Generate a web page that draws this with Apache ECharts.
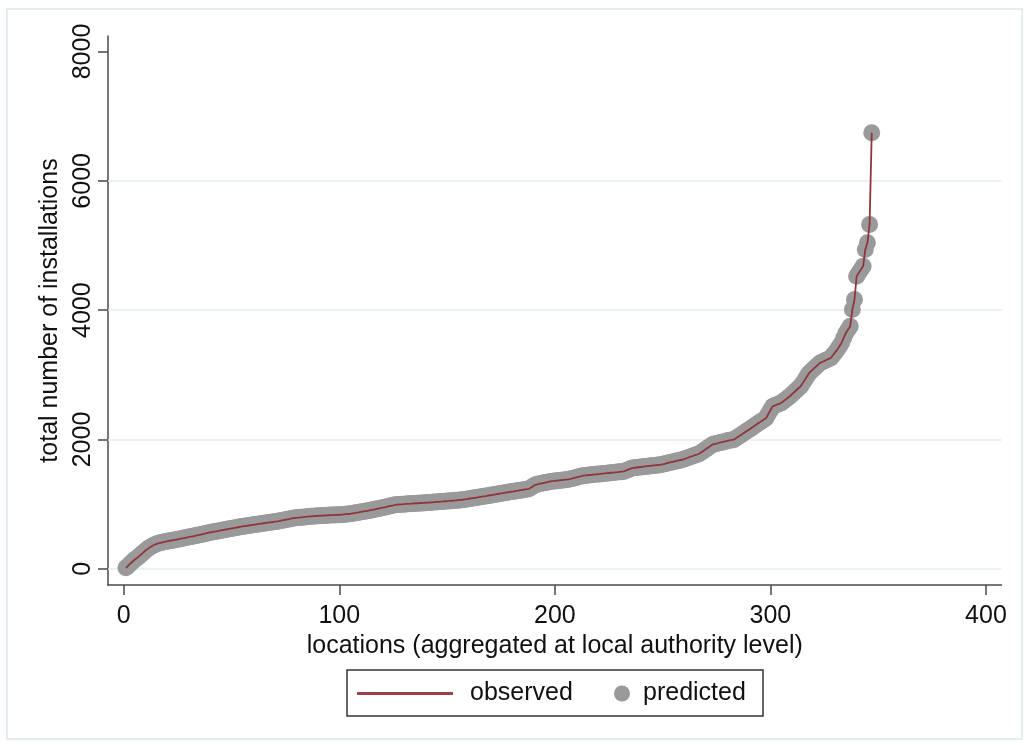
<!DOCTYPE html>
<html>
<head>
<meta charset="utf-8">
<script src="https://cdn.jsdelivr.net/npm/echarts@6/dist/echarts.min.js"></script>
<style>
html,body{margin:0;padding:0;background:#fff;}
#chart{width:1028px;height:745px;}
</style>
</head>
<body>
<div id="chart"></div>
<script>
// observed totals, sorted, for locations ranked 1..347
const observed = [
  15, 45, 80, 110, 140, 165, 190, 220, 250, 280,
  305, 330, 350, 368, 382, 394, 403, 410, 418, 425,
  431, 437, 443, 449, 456, 462, 470, 476, 484, 491,
  497, 503, 511, 518, 524, 531, 540, 547, 555, 562,
  568, 574, 580, 587, 593, 600, 606, 612, 618, 624,
  630, 636, 643, 649, 655, 660, 665, 670, 675, 680,
  685, 690, 695, 700, 705, 710, 715, 720, 724, 729,
  733, 739, 746, 752, 759, 766, 772, 779, 785, 789,
  792, 796, 799, 803, 806, 810, 812, 815, 817, 819,
  821, 823, 825, 827, 829, 831, 832, 834, 835, 836,
  839, 842, 845, 848, 851, 857, 863, 869, 874, 880,
  886, 892, 897, 903, 910, 917, 924, 931, 938, 945,
  952, 960, 968, 975, 982, 990, 993, 996, 998, 1000,
  1003, 1005, 1007, 1010, 1012, 1014, 1016, 1018, 1020, 1022,
  1024, 1026, 1029, 1032, 1035, 1037, 1040, 1042, 1045, 1048,
  1050, 1053, 1056, 1059, 1062, 1065, 1068, 1073, 1078, 1084,
  1089, 1094, 1099, 1104, 1110, 1115, 1121, 1126, 1132, 1138,
  1143, 1149, 1155, 1161, 1166, 1172, 1177, 1183, 1188, 1194,
  1199, 1205, 1210, 1216, 1221, 1227, 1232, 1238, 1258, 1280,
  1300, 1308, 1316, 1323, 1330, 1337, 1344, 1351, 1355, 1359,
  1363, 1367, 1371, 1375, 1379, 1383, 1388, 1397, 1406, 1414,
  1423, 1431, 1440, 1444, 1447, 1451, 1454, 1458, 1461, 1465,
  1468, 1472, 1475, 1479, 1482, 1486, 1489, 1493, 1496, 1500,
  1503, 1506, 1520, 1533, 1546, 1559, 1563, 1567, 1571, 1575,
  1579, 1583, 1587, 1591, 1595, 1599, 1603, 1606, 1610, 1617,
  1625, 1633, 1641, 1649, 1656, 1664, 1672, 1680, 1687, 1698,
  1710, 1722, 1734, 1745, 1757, 1768, 1780, 1803, 1826, 1850,
  1873, 1897, 1920, 1929, 1937, 1946, 1954, 1963, 1971, 1980,
  1988, 1993, 1997, 2019, 2041, 2063, 2085, 2108, 2130, 2152,
  2175, 2197, 2220, 2243, 2265, 2288, 2310, 2333, 2393, 2452,
  2512, 2525, 2539, 2552, 2565, 2591, 2617, 2642, 2668, 2700,
  2731, 2762, 2792, 2822, 2874, 2925, 2977, 3029, 3060, 3091,
  3122, 3153, 3184, 3199, 3215, 3230, 3246, 3261, 3304, 3347,
  3390, 3442, 3494, 3571, 3648, 3700, 3751, 4009, 4164, 4525,
  4580, 4628, 4680, 4938, 5042, 5325, 6745
];
// predicted values sit on the observed curve
const predicted = observed.slice();
const xTicks = [0, 100, 200, 300, 400];
const yTicks = [0, 2000, 4000, 6000, 8000];
const yGrid = [0, 2000, 4000, 6000];

const obsData = observed.map((v, i) => [i + 1, v]);
const predData = predicted.map((v, i) => [i + 1, v]);

const FONT = '"Liberation Sans", Arial, sans-serif';
const axisColor = '#4a4a4a';

const chart = echarts.init(document.getElementById('chart'), null, {renderer: 'canvas'});
chart.setOption({
  backgroundColor: '#ffffff',
  animation: false,
  textStyle: {fontFamily: FONT},
  grid: {left: 108, right: 26.5, top: 36, bottom: 160, containLabel: false},
  xAxis: {
    type: 'value', min: -7.3, max: 407.2,
    name: 'locations (aggregated at local authority level)',
    nameLocation: 'middle', nameGap: 46,
    nameTextStyle: {fontSize: 25, color: '#111', fontFamily: FONT},
    axisLine: {show: true, onZero: false, lineStyle: {color: axisColor, width: 1.5}},
    axisTick: {show: true, length: 10, customValues: xTicks, lineStyle: {color: axisColor, width: 1.5}},
    axisLabel: {customValues: xTicks, formatter: v => String(v), fontSize: 25, color: '#111', margin: 19, fontFamily: FONT},
    splitLine: {show: false}
  },
  yAxis: {
    type: 'value', min: -250, max: 8240,
    name: 'total number of installations',
    nameLocation: 'middle', nameGap: 36, nameRotate: 90,
    nameTextStyle: {fontSize: 25, color: '#111', fontFamily: FONT},
    axisLine: {show: true, onZero: false, lineStyle: {color: axisColor, width: 1.5}},
    axisTick: {show: true, length: 10, customValues: yTicks, lineStyle: {color: axisColor, width: 1.5}},
    axisLabel: {customValues: yTicks, formatter: v => String(v), rotate: 90, fontSize: 25, color: '#111', margin: 12, fontFamily: FONT},
    splitLine: {show: false}
  },
  legend: [
    {
      data: [{name: 'observed', icon: 'path://M0,0H96V3H0Z'}], left: 357, top: 681, padding: 0,
      itemWidth: 96, itemHeight: 24,
      itemStyle: {color: '#9a4048'},
      textStyle: {fontSize: 25, color: '#111', fontFamily: FONT, padding: [0, 0, 0, 12]},
      selectedMode: false
    },
    {
      data: ['predicted'], left: 614, top: 681, padding: 0,
      itemWidth: 16, itemHeight: 16,
      textStyle: {fontSize: 25, color: '#111', fontFamily: FONT, padding: [0, 0, 0, 8]},
      selectedMode: false
    }
  ],
  graphic: [
    {type: 'rect', shape: {x: 7, y: 9, width: 1015, height: 730}, style: {fill: 'none', stroke: '#e6edf0', lineWidth: 2}, z: -1, silent: true},
    {type: 'rect', shape: {x: 347, y: 670, width: 416, height: 46}, style: {fill: 'none', stroke: '#333', lineWidth: 1.5}, silent: true}
  ],
  series: [
    {
      name: 'predicted', type: 'scatter', data: predData,
      symbol: 'circle', symbolSize: 17,
      itemStyle: {color: '#9a9a9a', opacity: 1},
      z: 2, silent: true,
      markLine: {
        silent: true, symbol: 'none', label: {show: false},
        lineStyle: {color: '#e6eef0', width: 1.5, type: 'solid'},
        data: yGrid.map(v => ({yAxis: v})),
        z: 1
      }
    },
    {
      name: 'observed', type: 'line', data: obsData,
      showSymbol: false, symbol: 'none',
      lineStyle: {color: '#90353b', width: 1.8},
      itemStyle: {color: '#90353b'},
      z: 3, silent: true
    }
  ]
});
</script>
</body>
</html>
